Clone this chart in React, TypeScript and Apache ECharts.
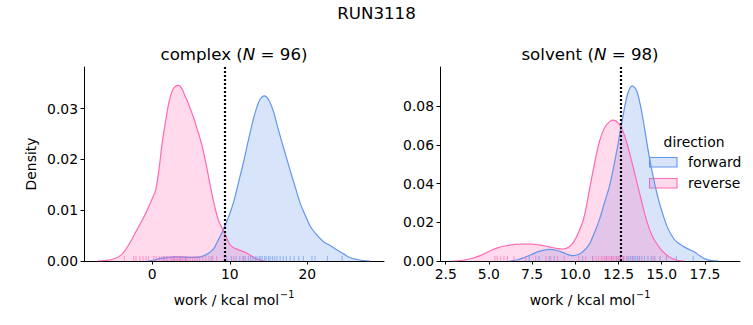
import React, { useEffect, useRef } from "react";
import * as echarts from "echarts";

const FONT = "DejaVu Sans";
const BLUE = "#6495ed";
const PINK = "#ff69b4";
const BLUE_FILL = "rgba(100,149,237,0.25)";
const PINK_FILL = "rgba(255,105,180,0.25)";

const suptitle = "RUN3118";
const directions = ["forward", "reverse"];

// complex panel KDE (forward)
const complexFwdX = [-0.5, 0.2, 1.1, 2.0, 2.8, 3.6, 4.5, 5.4, 6.2, 6.9, 7.5, 8.0, 8.4, 8.9, 9.3, 9.8, 10.2, 10.6, 11.1, 11.7, 12.4, 13.0, 13.5, 13.9, 14.45, 15.0, 15.6, 16.3, 16.9, 17.8, 18.5, 19.1, 19.8, 20.4, 21.2, 22.1, 23.0, 23.8, 24.7, 25.5, 26.4, 27.2, 28.1];
const complexFwdY = [0, 0.0002, 0.0005, 0.0007, 0.0008, 0.0008, 0.0007, 0.0007, 0.0008, 0.0012, 0.0018, 0.0026, 0.0038, 0.0053, 0.0067, 0.0085, 0.0102, 0.0122, 0.0153, 0.019, 0.0238, 0.0277, 0.0303, 0.0318, 0.0325, 0.0318, 0.0296, 0.0257, 0.0225, 0.0178, 0.0143, 0.0113, 0.0088, 0.0068, 0.0052, 0.0038, 0.003, 0.0022, 0.0014, 0.0007, 0.0003, 0.0001, 0];

// complex panel KDE (reverse)
const complexRevX = [-7.1, -6.0, -5.0, -4.0, -3.0, -2.0, -1.0, 0.0, 0.45, 0.9, 1.3, 1.75, 2.15, 2.6, 3.0, 3.4, 3.8, 4.2, 4.6, 5.0, 5.4, 5.8, 6.1, 6.5, 6.8, 7.1, 7.5, 8.0, 8.5, 9.0, 9.5, 10.0, 10.5, 11.0, 11.5, 12.0, 12.6, 13.2, 13.9, 14.6];
const complexRevY = [0, 0.0001, 0.0004, 0.0012, 0.0033, 0.0061, 0.0089, 0.0123, 0.014, 0.0185, 0.0235, 0.0278, 0.0313, 0.0336, 0.0344, 0.0346, 0.034, 0.0326, 0.0312, 0.0296, 0.0279, 0.0259, 0.0245, 0.0222, 0.0201, 0.0179, 0.0147, 0.0111, 0.0082, 0.0065, 0.0049, 0.0033, 0.0026, 0.0023, 0.002, 0.0017, 0.0012, 0.0006, 0.0002, 0];

// solvent panel KDE (forward)
const solventFwdX = [6.2, 6.6, 7.0, 7.5, 8.0, 8.5, 9.0, 9.5, 9.8, 10.1, 10.4, 10.8, 11.1, 11.4, 11.7, 12.0, 12.4, 12.8, 13.05, 13.3, 13.55, 13.8, 14.0, 14.2, 14.45, 14.75, 15.0, 15.35, 15.7, 16.0, 16.3, 16.6, 16.9, 17.2, 17.5, 17.9, 18.3];
const solventFwdY = [0, 0.0005, 0.0017, 0.0035, 0.0052, 0.006, 0.0053, 0.0036, 0.0028, 0.0031, 0.0045, 0.0085, 0.0145, 0.0215, 0.0305, 0.0395, 0.057, 0.077, 0.087, 0.0905, 0.088, 0.079, 0.069, 0.058, 0.046, 0.034, 0.026, 0.017, 0.0115, 0.009, 0.0073, 0.0059, 0.0046, 0.0027, 0.0011, 0.0002, 0];

// solvent panel KDE (reverse)
const solventRevX = [2.9, 3.5, 4.0, 4.5, 5.0, 5.5, 6.0, 6.5, 7.0, 7.5, 8.0, 8.5, 9.0, 9.3, 9.6, 9.9, 10.2, 10.5, 10.8, 11.1, 11.4, 11.7, 12.0, 12.2, 12.5, 12.8, 13.0, 13.25, 13.5, 13.75, 14.0, 14.25, 14.5, 14.75, 15.0, 15.3, 15.6, 15.9, 16.3];
const solventRevY = [0, 0.0004, 0.0013, 0.0028, 0.0049, 0.0068, 0.0079, 0.0086, 0.0088, 0.0087, 0.0082, 0.0073, 0.0064, 0.0062, 0.0071, 0.0098, 0.015, 0.0225, 0.036, 0.05, 0.062, 0.069, 0.0722, 0.0728, 0.0712, 0.066, 0.0605, 0.052, 0.043, 0.034, 0.025, 0.0175, 0.012, 0.0085, 0.0055, 0.003, 0.0013, 0.0004, 0];

// rug samples
const complexFwdRug = [1.5, 2.8, 3.6, 4.3, 7.6, 9.6, 10.2, 10.8, 11.3, 11.7, 12.0, 12.4, 12.7, 13.0, 13.3, 13.5, 13.8, 14.0, 14.2, 14.5, 14.7, 15.0, 15.2, 15.5, 15.8, 16.1, 16.5, 16.9, 17.3, 17.8, 18.3, 18.9, 19.5, 20.6, 21.0, 22.6, 24.5];
const complexRevRug = [-3.6, -2.4, -2.1, -1.6, -1.2, -0.8, -0.5, 0.2, 0.5, 0.9, 1.2, 1.5, 1.8, 2.0, 2.3, 2.5, 2.7, 2.9, 3.1, 3.3, 3.5, 3.7, 3.9, 4.1, 4.4, 4.6, 4.9, 5.2, 5.5, 5.8, 6.1, 6.5, 6.9, 7.3, 7.8, 8.3, 9.3, 10.5, 11.8];
const solventFwdRug = [7.33, 7.9, 8.49, 8.78, 10.42, 11.0, 11.8, 12.1, 12.4, 12.6, 12.8, 13.0, 13.1, 13.2, 13.3, 13.4, 13.5, 13.6, 13.7, 13.85, 14.0, 14.2, 14.4, 14.6, 14.9, 15.27, 15.85, 16.82];
const solventRevRug = [5.35, 5.48, 5.68, 5.87, 6.07, 6.45, 7.13, 7.71, 8.3, 8.58, 8.97, 9.36, 10.2, 10.6, 11.0, 11.2, 11.35, 11.5, 11.6, 11.7, 11.8, 11.9, 12.0, 12.1, 12.2, 12.3, 12.4, 12.5, 12.6, 12.7, 12.8, 12.95, 13.33, 13.72, 14.5];

// reference lines (dotted)
const refLines = [9.38, 12.64];

// axes
const panelNames = ["complex", "solvent"];
const panelN = [96, 98];
const xLimits = [[-8.81, 29.9], [2.17, 19.53]];
const yLimits = [[0, 0.0382], [0, 0.1003]];
const xTicks = [[0, 10, 20], [2.5, 5.0, 7.5, 10.0, 12.5, 15.0, 17.5]];
const yTicks = [[0, 0.01, 0.02, 0.03], [0, 0.02, 0.04, 0.06, 0.08]];
const xLabelMain = "work / kcal mol";
const xLabelSup = "\u22121";
const yLabel = "Density";

const zip = (xs: number[], ys: number[]) => xs.map((x, i) => [x, ys[i]]);

export default function App() {
  const ref = useRef<HTMLDivElement>(null);
  useEffect(() => {
    if (!ref.current) return;
    const chart = echarts.init(ref.current, null, { renderer: "svg" });
    const tickFmt = [
      [(v: number) => String(Math.round(v)), (v: number) => v.toFixed(2)],
      [(v: number) => v.toFixed(1), (v: number) => v.toFixed(2)],
    ];
    const axisCommon = (gi: number, min: number, max: number, ticks: number[], fmt: (v: number) => string) => ({
      type: "value",
      gridIndex: gi,
      min,
      max,
      axisLine: { show: true, onZero: false, lineStyle: { color: "#000", width: 1 } },
      axisTick: { show: true, inside: false, length: 3.5, lineStyle: { color: "#000", width: 1 }, customValues: ticks },
      axisLabel: { show: true, customValues: ticks, formatter: fmt, color: "#000", fontSize: 13.9, fontFamily: FONT, margin: 6 },
      splitLine: { show: false },
    });
    const curves = [
      [zip(complexFwdX, complexFwdY), zip(complexRevX, complexRevY)],
      [zip(solventFwdX, solventFwdY), zip(solventRevX, solventRevY)],
    ];
    const rugs = [
      [complexFwdRug, complexRevRug],
      [solventFwdRug, solventRevRug],
    ];
    const colors = [BLUE, PINK];
    const fills = [BLUE_FILL, PINK_FILL];
    const series: any[] = [];
    for (let p = 0; p < 2; p++) {
      for (let d = 0; d < 2; d++) {
        series.push({
          type: "line",
          name: directions[d],
          xAxisIndex: p,
          yAxisIndex: p,
          data: curves[p][d],
          smooth: 0.35,
          showSymbol: false,
          symbol: "none",
          lineStyle: { color: colors[d], width: 1.2 },
          itemStyle: { color: colors[d] },
          areaStyle: { color: fills[d], opacity: 1 },
          silent: true,
          z: 2,
        });
      }
      for (let d = 0; d < 2; d++) {
        series.push({
          type: "scatter",
          name: directions[d] + " rug",
          xAxisIndex: p,
          yAxisIndex: p,
          data: rugs[p][d].map((v) => [v, 0]),
          symbol: "rect",
          symbolSize: [1.1, 5],
          symbolOffset: [0, -2.5],
          itemStyle: { color: colors[d], opacity: 0.6 },
          silent: true,
          clip: false,
          z: 3,
        });
      }
      series.push({
        type: "line",
        xAxisIndex: p,
        yAxisIndex: p,
        data: [],
        silent: true,
        z: 4,
        markLine: {
          silent: true,
          symbol: ["none", "none"],
          label: { show: false },
          lineStyle: { color: "#000", type: [2, 2], width: 2.2 },
          data: [{ xAxis: refLines[p] }],
        },
      });
    }

    const titleRich = {
      a: { fontSize: 16.67, fontFamily: FONT, color: "#000" },
      i: { fontSize: 16.67, fontFamily: FONT, fontStyle: "italic", color: "#000" },
    };
    const labelRich = {
      a: { fontSize: 13.9, fontFamily: FONT, color: "#000" },
      s: { fontSize: 9.7, fontFamily: FONT, color: "#000", padding: [0, 0, 12, 1] },
    };
    const centers = [234, 590];
    const graphic: any[] = [
      {
        type: "text", x: 376.5, y: 13,
        style: { text: suptitle, font: `16.67px ${FONT}`, fill: "#000", align: "center", verticalAlign: "middle" },
      },
      {
        type: "text", x: 31, y: 164, rotation: Math.PI / 2,
        style: { text: yLabel, font: `13.9px ${FONT}`, fill: "#000", align: "center", verticalAlign: "middle" },
      },
      {
        type: "text", x: 694, y: 142,
        style: { text: "direction", font: `13.9px ${FONT}`, fill: "#000", align: "center", verticalAlign: "middle" },
      },
    ];
    for (let p = 0; p < 2; p++) {
      graphic.push({
        type: "text", x: centers[p], y: 54,
        style: {
          text: `{a|${panelNames[p]} (}{i|N}{a| = ${panelN[p]})}`,
          rich: titleRich, fill: "#000", align: "center", verticalAlign: "middle",
        },
      });
      graphic.push({
        type: "text", x: centers[p], y: 300,
        style: {
          text: `{a|${xLabelMain}}{s|${xLabelSup}}`,
          rich: labelRich, fill: "#000", align: "center", verticalAlign: "middle",
        },
      });
    }
    for (let d = 0; d < 2; d++) {
      graphic.push({
        type: "rect",
        shape: { x: 649.5, y: 157.5 + d * 21, width: 27.5, height: 9.5 },
        style: { fill: fills[d], stroke: colors[d], lineWidth: 1.1 },
      });
      graphic.push({
        type: "text", x: 688, y: 162 + d * 21,
        style: { text: directions[d], font: `13.9px ${FONT}`, fill: "#000", align: "left", verticalAlign: "middle" },
      });
    }

    chart.setOption({
      animation: false,
      backgroundColor: "#fff",
      grid: [
        { left: 84, top: 67, width: 300, height: 194 },
        { left: 440, top: 67, width: 300, height: 194 },
      ],
      xAxis: [0, 1].map((p) => axisCommon(p, xLimits[p][0], xLimits[p][1], xTicks[p], tickFmt[p][0])),
      yAxis: [0, 1].map((p) => axisCommon(p, yLimits[p][0], yLimits[p][1], yTicks[p], tickFmt[p][1])),
      series,
      graphic,
    });
    return () => chart.dispose();
  }, []);
  return <div ref={ref} style={{ position: "fixed", left: 0, top: 0, width: 753, height: 325, background: "#fff" }} />;
}
